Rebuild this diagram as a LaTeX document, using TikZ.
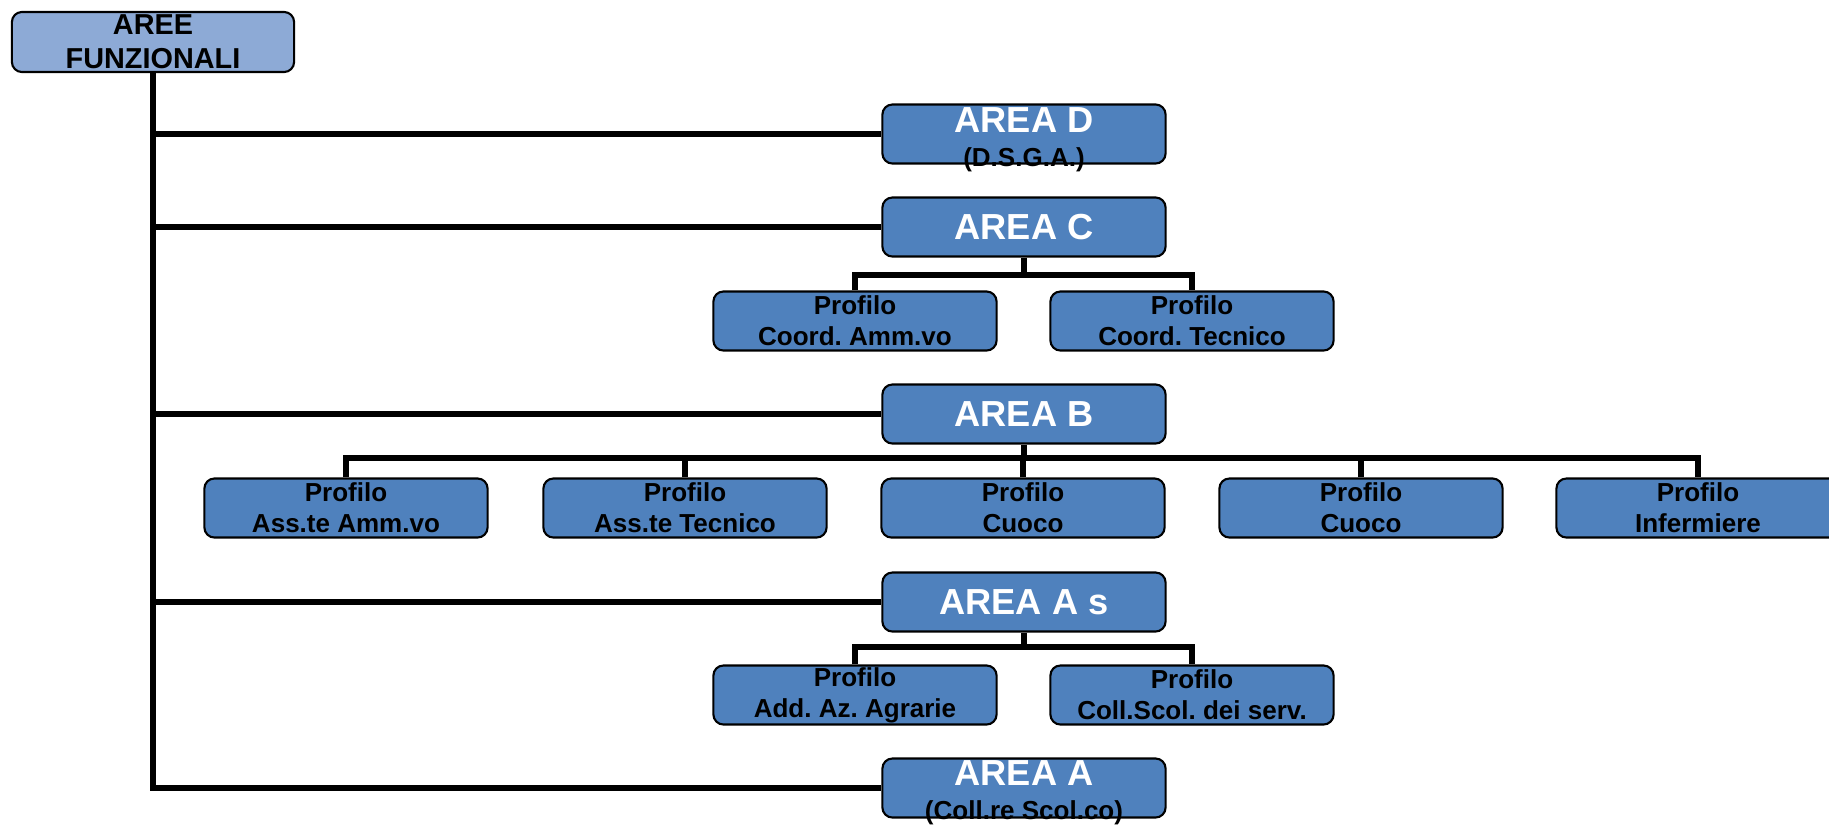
\documentclass[tikz,border=0pt]{standalone}
\usepackage{fontspec}
\setmainfont{Liberation Sans}
\frenchspacing
\definecolor{areablue}{RGB}{79,129,189}
\definecolor{topblue}{RGB}{141,170,214}
\tikzset{
  boxbase/.style={draw=black, line width=0.6pt, rounded corners=0.1cm,
    minimum width=2.83cm, minimum height=0.59cm, inner sep=0pt},
  topbox/.style={boxbase, fill=topblue, minimum width=2.82cm, minimum height=0.6cm,
    align=center, font=\bfseries\fontsize{8.2}{9.7}\selectfont},
  areabox/.style={boxbase, fill=areablue},
  profbox/.style={boxbase, fill=areablue, align=center,
    font=\bfseries\fontsize{7.4}{8.8}\selectfont},
  arealbl/.style={text=white, font=\bfseries\fontsize{10.3}{12}\selectfont, inner sep=0pt},
  sublbl/.style={font=\bfseries\fontsize{7.4}{8.8}\selectfont, inner sep=0pt},
  conn/.style={line width=1.7pt},
}
\begin{document}
\begin{tikzpicture}[x=0.01cm, y=-0.01cm]
  \useasboundingbox[fill=white] (0,0) rectangle (1829,827);

  % top box and areas
  \node[topbox] (top) at (153,42) {AREE\\FUNZIONALI};
  \node[areabox] (areaD) at (1024,134) {};
  \node[areabox, arealbl] (areaC) at (1024,227) {AREA C};
  \node[areabox, arealbl] (areaB) at (1024,414) {AREA B};
  \node[areabox, arealbl] (areaAs) at (1024,602) {AREA A s};
  \node[areabox] (areaA) at (1024,788) {};

  \node[arealbl] (areaDt) at (1024,120) {AREA D};
  \node[sublbl] (areaDs) at (1024,160) {(D.S.G.A.)};
  \node[arealbl] (areaAt) at (1024,773) {AREA A};
  \node[sublbl] (areaAsub) at (1024,813) {(Coll.re Scol.co)};

  % profili
  \node[profbox] (pcAmm) at (855,321) {Profilo\\Coord. Amm.vo};
  \node[profbox] (pcTec) at (1192,321) {Profilo\\Coord. Tecnico};

  \node[profbox] (pbAmm) at (346,508) {Profilo\\Ass.te Amm.vo};
  \node[profbox] (pbTec) at (685,508) {Profilo\\Ass.te Tecnico};
  \node[profbox] (pbCuoA) at (1023,508) {Profilo\\Cuoco};
  \node[profbox] (pbCuoB) at (1361,508) {Profilo\\Cuoco};
  \node[profbox] (pbInf) at (1698,508) {Profilo\\Infermiere};

  \node[profbox] (paAgr) at (855,695) {Profilo\\Add. Az. Agrarie};
  \node[profbox] (paSer) at (1192,695) {Profilo\\Coll.Scol. dei serv.};

  % trunk and branches
  \draw[conn] (top.south) -- (top.south |- areaA.west) -- (areaA.west);
  \foreach \a in {areaD,areaC,areaB,areaAs}
    \draw[conn] (top.south |- \a.west) -- (\a.west);

  % bars
  \coordinate (cbar) at (1024,275);
  \coordinate (bbar) at (1024,458);
  \coordinate (abar) at (1024,647);

  \draw[conn] (areaC.south) -- (cbar);
  \draw[conn] (pcAmm.north) |- (cbar) -| (pcTec.north);

  \draw[conn] (areaB.south) -- (bbar);
  \draw[conn] (pbAmm.north) |- (bbar) -| (pbInf.north);
  \foreach \p in {pbTec,pbCuoA,pbCuoB}
    \draw[conn] (\p.north) -- (\p.north |- bbar);

  \draw[conn] (areaAs.south) -- (abar);
  \draw[conn] (paAgr.north) |- (abar) -| (paSer.north);
\end{tikzpicture}
\end{document}
